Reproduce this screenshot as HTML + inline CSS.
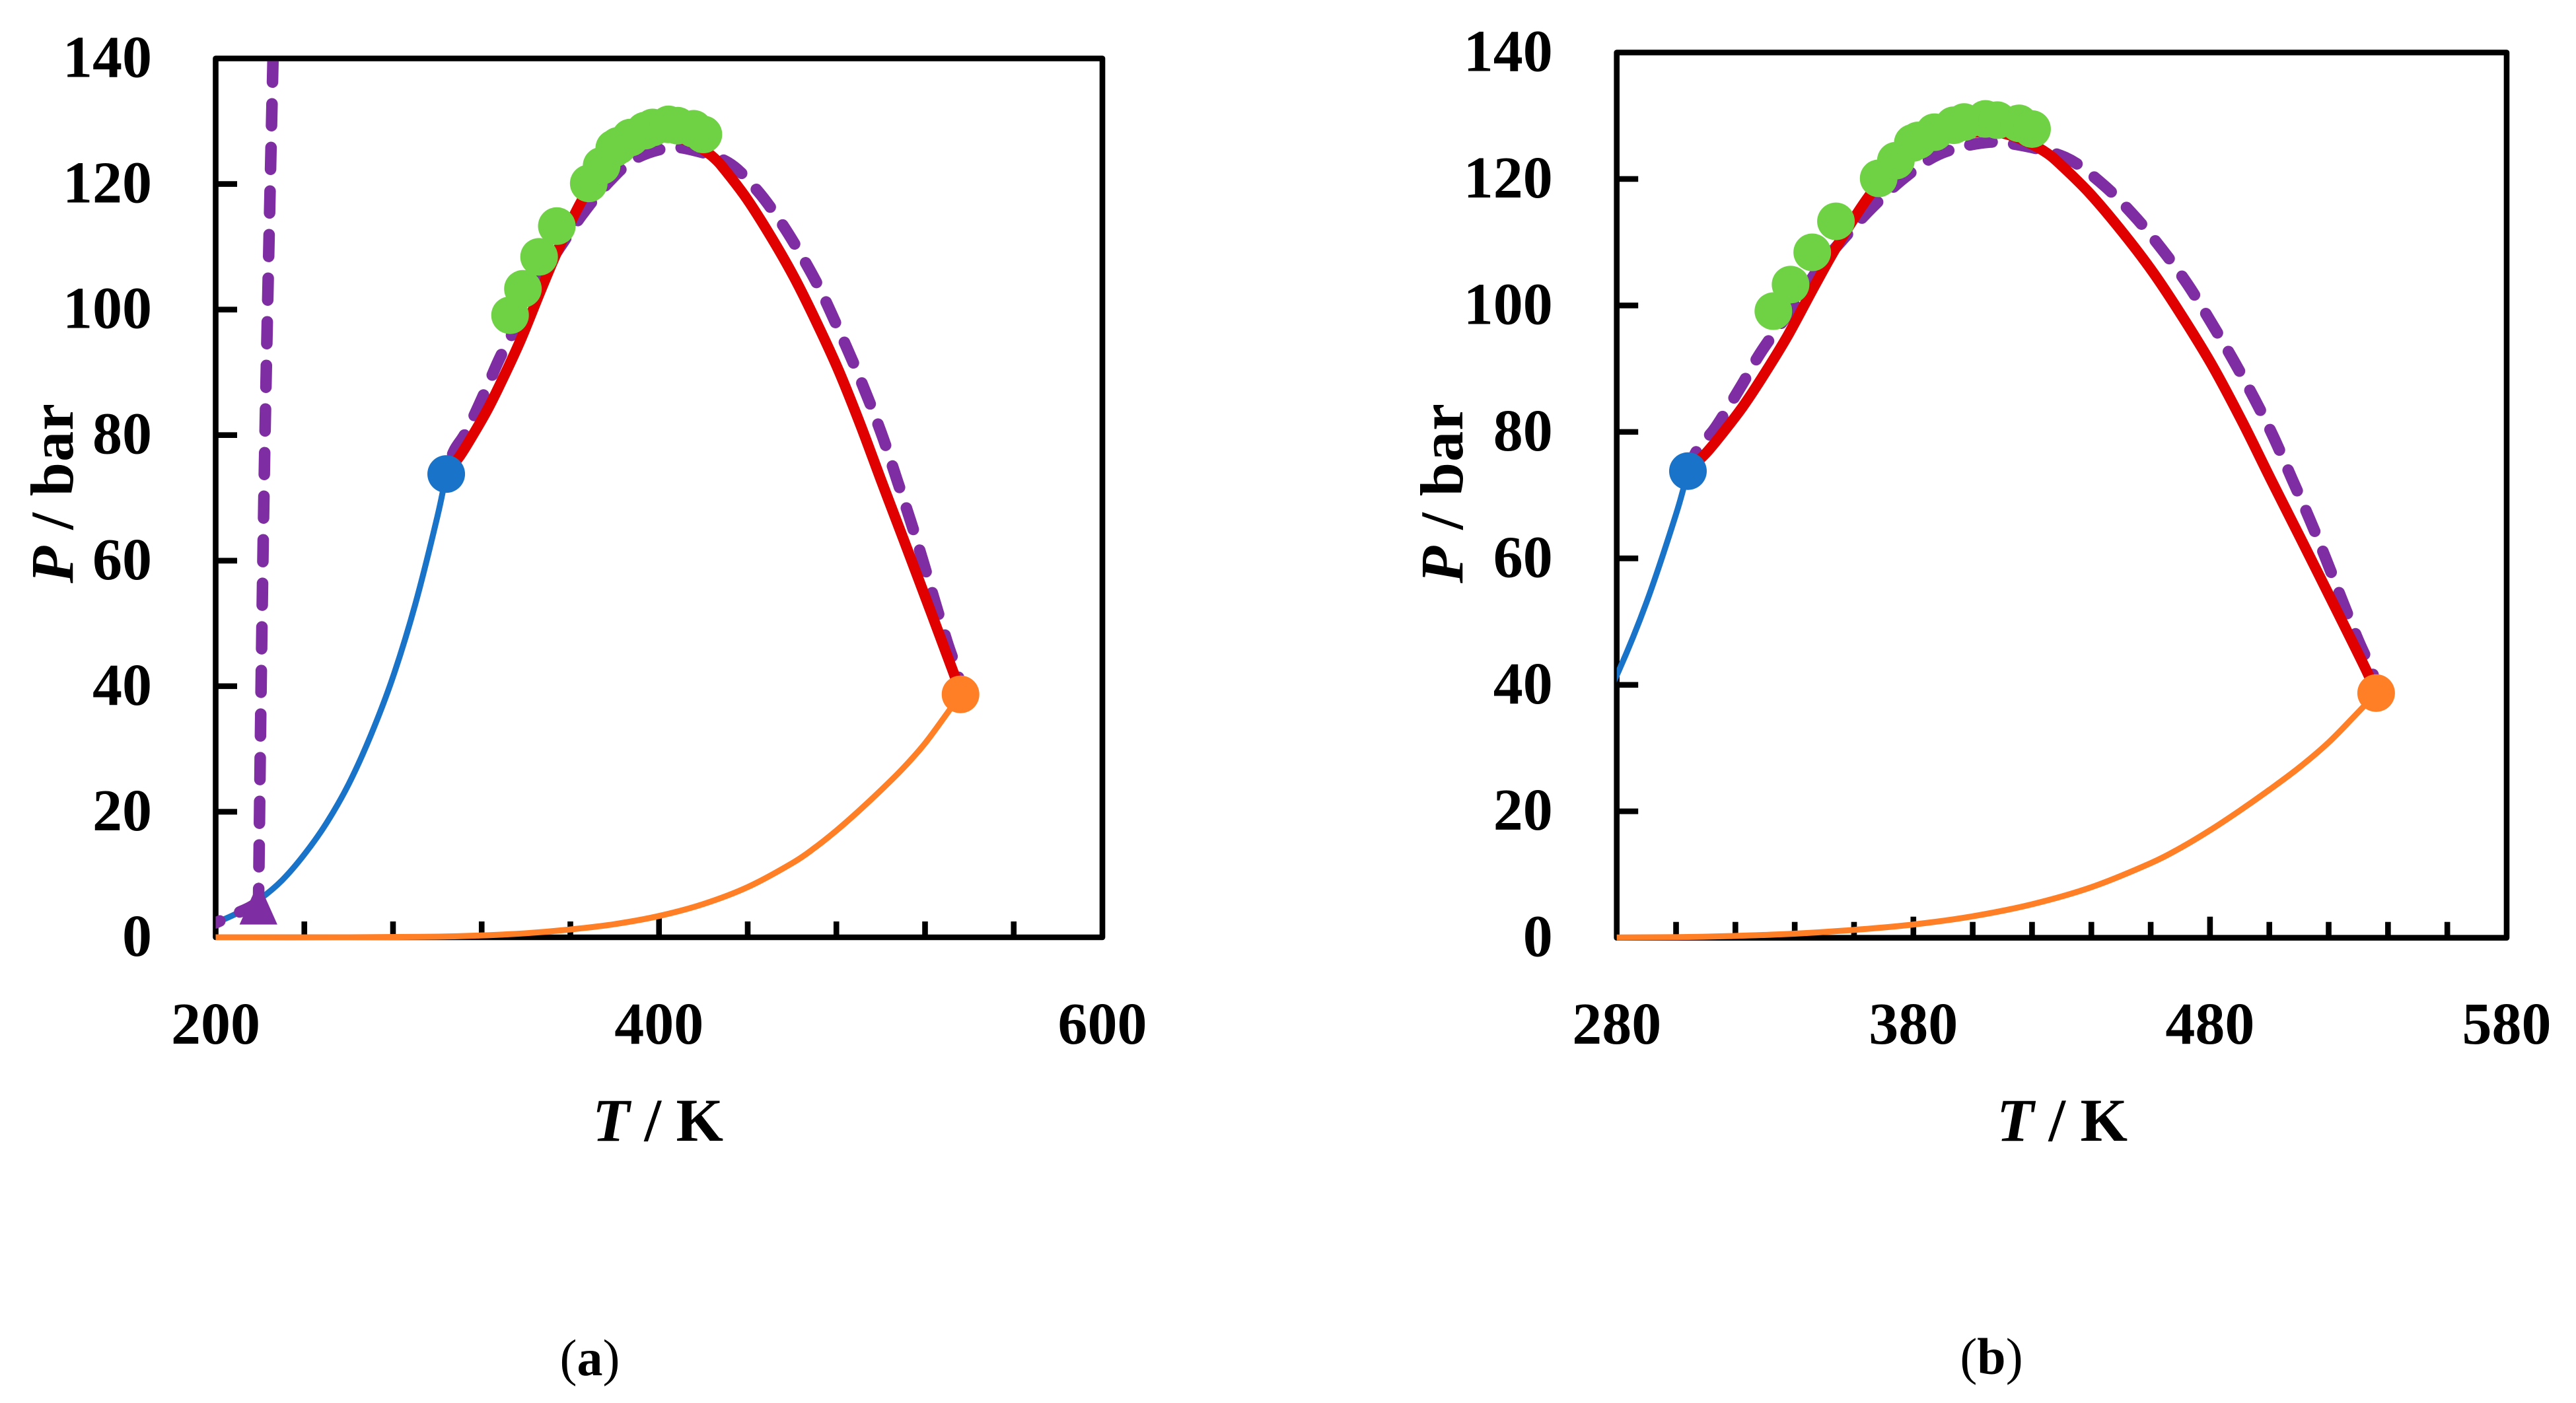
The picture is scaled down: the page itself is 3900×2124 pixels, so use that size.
<!DOCTYPE html>
<html lang="en">
<head>
<meta charset="utf-8">
<title>P-T phase diagrams</title>
<style>
html,body{margin:0;padding:0;background:#fff;}
svg{display:block;}
text{font-family:"Liberation Serif",serif;fill:#000;}
.tick{font-size:90px;font-weight:bold;}
.title{font-size:92px;font-weight:bold;}
.cap{font-size:78px;}
</style>
</head>
<body>
<svg id="chart" xmlns="http://www.w3.org/2000/svg" width="3900" height="2124" viewBox="0 0 3900 2124">
<rect width="3900" height="2124" fill="#fff"/>
<text class="title" x="996" y="1727" text-anchor="middle" textLength="198"><tspan font-style="italic">T</tspan> / K</text>
<text class="title" x="3122" y="1727" text-anchor="middle" textLength="198"><tspan font-style="italic">T</tspan> / K</text>
<text class="title" transform="translate(110 747) rotate(-90)" text-anchor="middle" textLength="272"><tspan font-style="italic">P</tspan> / bar</text>
<text class="title" transform="translate(2214 747) rotate(-90)" text-anchor="middle" textLength="272"><tspan font-style="italic">P</tspan> / bar</text>
<text class="cap" x="893" y="2082" text-anchor="middle">(<tspan font-weight="bold">a</tspan>)</text>
<text class="cap" x="3015" y="2080" text-anchor="middle">(<tspan font-weight="bold">b</tspan>)</text>
</svg>
<script>
// --- chart data (T in K, P in bar) ---
const yTickValues = [0, 20, 40, 60, 80, 100, 120, 140];
const xTicksA = [200, 240, 280, 320, 360, 400, 440, 480, 520, 560, 600];
const xMajorA = [200, 400, 600];
const xTicksB = [280, 300, 320, 340, 360, 380, 400, 420, 440, 460, 480, 500, 520, 540, 560, 580];
const xMajorB = [280, 380, 480, 580];

const blueT = [200, 210, 220, 230, 240, 250, 260, 270, 280, 290, 300, 304];
const blueP = [2.3, 3.9, 6.1, 9.1, 13.2, 18.2, 24.4, 32.2, 41.5, 53.0, 67.0, 73.8];

const orangeT = [200, 260, 300, 320, 340, 360, 380, 400, 420, 440, 460, 470, 480, 490, 500, 510, 520, 530, 536];
const orangeP = [0, 0, 0.1, 0.3, 0.65, 1.25, 2.1, 3.4, 5.3, 8.0, 11.8, 14.2, 17.0, 20.1, 23.4, 26.9, 30.9, 35.7, 38.7];

const redT = [304, 310, 316, 322.5, 329, 337.5, 346.7, 354.5, 364, 372, 380, 390, 404, 412, 419, 425, 429.8, 439.7, 451, 461, 471, 481, 491, 500.5, 510.4, 523.2, 533, 536];
const redP = [74, 76.6, 80, 84, 88.6, 95.1, 103.1, 109.6, 116.6, 121.3, 124.3, 126.4, 127.5, 127, 125.7, 124.1, 122.2, 117.6, 111.3, 105.1, 98, 90.3, 81.5, 72.5, 63.3, 51.3, 42, 38.7];

const purpleT = [304, 307.6, 313.3, 322, 329, 340.4, 348.8, 357.3, 365.9, 377, 388.6, 403, 414.2, 431.2, 443.5, 454.2, 463.6, 472.5, 480.4, 487.8, 494.9, 501.3, 507.6, 513.5, 519, 524.5, 530, 534.7, 536];
const purpleP = [74, 77.5, 80.7, 87.3, 92.9, 100.4, 106.3, 111, 115.4, 120.2, 123.9, 125.7, 125.5, 123.4, 119.3, 114.3, 109, 103.3, 97.3, 91.4, 85.3, 79.3, 72.6, 66.3, 60, 53.4, 47, 42, 38.7];

const lowBranchT = [200, 205, 210, 215, 219.3];
const lowBranchP = [2.3, 3.1, 3.9, 4.7, 5.6];
const solidBranchT = [219.3, 220.5, 222, 224, 226];
const solidBranchP = [4.3, 40, 75, 110, 142];
const tripleT = 219.3;
const tripleP = 5.2;

const greenT = [332.8, 338.6, 345.9, 353.9, 368.3, 374.1, 379.8, 381.6, 387.1, 393.6, 397.1, 404.3, 408.3, 415.6, 420];
const greenP = [99.1, 103.3, 108.4, 113.3, 120.1, 122.9, 125.7, 126.1, 127.4, 128.5, 129, 129.5, 129.3, 128.8, 127.9];

const criticalBlueT = 304;
const criticalBlueP = 73.8;
const criticalOrangeT = 536;
const criticalOrangeP = 38.7;

const NS = 'http://www.w3.org/2000/svg';
const svg = document.getElementById('chart');

function make(parent, tag, attrs) {
  const el = document.createElementNS(NS, tag);
  for (const k in attrs) el.setAttribute(k, attrs[k]);
  parent.appendChild(el);
  return el;
}

function smoothPath(pts) {
  let d = 'M' + pts[0][0].toFixed(2) + ' ' + pts[0][1].toFixed(2);
  for (let i = 0; i < pts.length - 1; i++) {
    const p0 = pts[Math.max(0, i - 1)], p1 = pts[i], p2 = pts[i + 1], p3 = pts[Math.min(pts.length - 1, i + 2)];
    const c1x = p1[0] + (p2[0] - p0[0]) / 6, c1y = p1[1] + (p2[1] - p0[1]) / 6;
    const c2x = p2[0] - (p3[0] - p1[0]) / 6, c2y = p2[1] - (p3[1] - p1[1]) / 6;
    d += 'C' + c1x.toFixed(2) + ' ' + c1y.toFixed(2) + ' ' + c2x.toFixed(2) + ' ' + c2y.toFixed(2) + ' ' + p2[0].toFixed(2) + ' ' + p2[1].toFixed(2);
  }
  return d;
}

function drawPanel(cfg) {
  const sx = T => cfg.left + (T - cfg.tMin) / (cfg.tMax - cfg.tMin) * (cfg.right - cfg.left);
  const sy = P => cfg.bottom - P / 140 * (cfg.bottom - cfg.top);
  const points = (ts, ps) => ts.map((t, i) => [sx(t), sy(ps[i])]);

  const root = make(svg, 'g', {});
  
  

  const clipId = 'clip-' + cfg.id;
  const defs = make(root, 'defs', {});
  const clip = make(defs, 'clipPath', { id: clipId });
  make(clip, 'rect', { x: cfg.left, y: cfg.top + 4, width: cfg.right - cfg.left, height: cfg.bottom - cfg.top + 2 });

  // plot frame
  const frame = make(root, 'rect', { x: cfg.left, y: cfg.top, width: cfg.right - cfg.left, height: cfg.bottom - cfg.top, fill: 'none', stroke: '#000', 'stroke-width': 8.6, 'stroke-linejoin': 'round' });
  
  

  // y ticks + labels
  yTickValues.forEach(v => {
    if (v !== 0 && v !== 140) {
      const t = make(root, 'line', { x1: cfg.left, x2: cfg.left + 32.5, y1: sy(v), y2: sy(v), stroke: '#000', 'stroke-width': 8.6 });
      
      
    }
    const lab = make(root, 'text', { class: 'tick', x: cfg.left - cfg.yLabelGap, y: sy(v) + 28, 'text-anchor': 'end' });
    
    
    lab.textContent = v;
  });

  // x ticks + labels
  cfg.xTicks.forEach(v => {
    const major = cfg.xMajor.includes(v);
    if (v !== cfg.tMin && v !== cfg.tMax) {
      const t = make(root, 'line', { x1: sx(v), x2: sx(v), y1: cfg.bottom, y2: cfg.bottom - (major ? 32 : 24), stroke: '#000', 'stroke-width': 8.6 });
      
      
    }
    if (major) {
      const lab = make(root, 'text', { class: 'tick', x: sx(v), y: 1580, 'text-anchor': 'middle' });
      
      
      lab.textContent = v;
    }
  });

  const plot = make(root, 'g', { 'clip-path': 'url(#' + clipId + ')' });
  
  

  const blue = make(plot, 'path', { d: smoothPath(points(blueT, blueP)), fill: 'none', stroke: '#1873c9', 'stroke-width': 9 });
  
  

  const orange = make(plot, 'path', { d: smoothPath(points(orangeT, orangeP)), fill: 'none', stroke: '#ff7f27', 'stroke-width': 9 });
  
  

  const dash = { fill: 'none', stroke: '#7f2da2', 'stroke-width': 17.5, 'stroke-linecap': 'round', 'stroke-linejoin': 'round', 'stroke-dasharray': '33 33' };

  const dome = make(plot, 'path', Object.assign({}, dash, { d: smoothPath(points(purpleT, purpleP)), 'stroke-dasharray': '34 33', 'stroke-dashoffset': cfg.domeOffset }));
  
  

  const low = make(plot, 'path', Object.assign({}, dash, { d: smoothPath(points(lowBranchT, lowBranchP)), 'stroke-dashoffset': 26 }));
  
  

  const vert = make(plot, 'path', Object.assign({}, dash, { d: smoothPath(points(solidBranchT, solidBranchP)) }));
  
  

  if (cfg.id === 'a') {
    const tx = sx(tripleT), ty = sy(tripleP);
    const tri = make(plot, 'polygon', { points: tx + ',' + (ty - 34) + ' ' + (tx + 28.6) + ',' + (ty + 30) + ' ' + (tx - 28.6) + ',' + (ty + 30), fill: '#7f2da2' });
    
    
  }

  const red = make(plot, 'path', { d: smoothPath(points(redT, redP)), fill: 'none', stroke: '#e00000', 'stroke-width': 16 });
  
  

  greenT.forEach((t, i) => {
    const c = make(plot, 'circle', { cx: sx(t), cy: sy(greenP[i]), r: 28.5, fill: '#6fd144' });
    
    
  });

  const cb = make(plot, 'circle', { cx: sx(criticalBlueT), cy: sy(criticalBlueP), r: 28.5, fill: '#1873c9' });
  
  

  const co = make(plot, 'circle', { cx: sx(criticalOrangeT), cy: sy(criticalOrangeP), r: 28.5, fill: '#ff7f27' });
  
  
}

drawPanel({ id: 'a', left: 326.5, right: 1669, top: 88.5, bottom: 1419, tMin: 200, tMax: 600, xTicks: xTicksA, xMajor: xMajorA, yLabelGap: 96.5, domeOffset: 37 });
drawPanel({ id: 'b', left: 2447.7, right: 3795, top: 79.5, bottom: 1419.7, tMin: 280, tMax: 580, xTicks: xTicksB, xMajor: xMajorB, yLabelGap: 97, domeOffset: 4 });
</script>
</body>
</html>
